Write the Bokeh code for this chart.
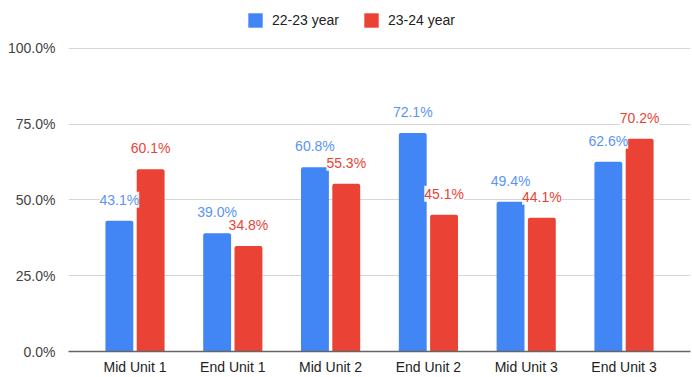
from bokeh.plotting import figure
from bokeh.models import (ColumnDataSource, FactorRange, Range1d, FixedTicker,
                          PrintfTickFormatter, LabelSet, Legend, LegendItem)
from bokeh.core.properties import value
from bokeh.transform import dodge
from bokeh.embed import file_html
from bokeh.resources import INLINE

# Assessment results by unit checkpoint
categories = ["Mid Unit 1", "End Unit 1", "Mid Unit 2", "End Unit 2", "Mid Unit 3", "End Unit 3"]
year_22_23 = [43.1, 39.0, 60.8, 72.1, 49.4, 62.6]
year_23_24 = [60.1, 34.8, 55.3, 45.1, 44.1, 70.2]
series_names = ["22-23 year", "23-24 year"]
y_ticks = [0, 25, 50, 75, 100]

BLUE = "#4285F4"
RED = "#EA4335"
FONT = "Liberation Sans"

source = ColumnDataSource(dict(
    cat=categories,
    a=year_22_23,
    b=year_23_24,
    a_lbl=[f"{v:.1f}%" for v in year_22_23],
    b_lbl=[f"{v:.1f}%" for v in year_23_24],
))

p = figure(
    width=692, height=377,
    x_range=FactorRange(*categories, range_padding=0.06),
    y_range=Range1d(0, 115.79),
    output_backend="svg", toolbar_location=None,
    min_border_left=68, min_border_right=2, min_border_top=0, min_border_bottom=25,
)
p.outline_line_color = None
p.background_fill_color = "white"
p.border_fill_color = "white"

bw = 0.285
off = 0.16
r_a = p.vbar(x=dodge("cat", -off, range=p.x_range), top="a", width=bw, source=source,
             fill_color=BLUE, line_color=None, border_radius=(2, 2, 0, 0))
r_b = p.vbar(x=dodge("cat", off, range=p.x_range), top="b", width=bw, source=source,
             fill_color=RED, line_color=None, border_radius=(2, 2, 0, 0))

# value labels floating above each bar
for col, lbl, dx, color in [("a", "a_lbl", -off, "#5A95F5"), ("b", "b_lbl", off, RED)]:
    p.add_layout(LabelSet(
        x=dodge("cat", dx, range=p.x_range), y=col, text=lbl, source=source,
        y_offset=21, text_align="center", text_baseline="middle",
        text_font=value(FONT), text_font_size=value("14px"), text_color=value(color),
        background_fill_color="white", background_fill_alpha=0.9,
    ))

# axes
p.yaxis.ticker = FixedTicker(ticks=y_ticks)
p.yaxis.formatter = PrintfTickFormatter(format="%.1f%%")
p.yaxis.axis_line_color = None
p.yaxis.major_tick_line_color = None
p.yaxis.minor_tick_line_color = None
p.yaxis.major_label_standoff = 7
p.yaxis.major_label_text_font = FONT
p.yaxis.major_label_text_font_size = "14px"
p.yaxis.major_label_text_color = "#444444"

p.xaxis.axis_line_color = "#666666"
p.xaxis.axis_line_width = 1.5
p.xaxis.major_tick_line_color = None
p.xaxis.minor_tick_line_color = None
p.xaxis.major_tick_out = 0
p.xaxis.major_label_standoff = 7
p.xaxis.major_label_text_font = FONT
p.xaxis.major_label_text_font_size = "14px"
p.xaxis.major_label_text_color = "#222222"

p.xgrid.grid_line_color = None
p.ygrid.ticker = FixedTicker(ticks=y_ticks)
p.ygrid.grid_line_color = "#d6d6d6"

legend = Legend(
    items=[LegendItem(label=series_names[0], renderers=[r_a]),
           LegendItem(label=series_names[1], renderers=[r_b])],
    orientation="horizontal", location=(178, 322),
    glyph_width=18, glyph_height=18, label_height=18, label_standoff=8, spacing=23,
    padding=0, margin=0, border_line_color=None, background_fill_alpha=0,
    label_text_font=FONT, label_text_font_size="14px", label_text_color="#222222",
)
p.add_layout(legend)

open("out.html", "w").write(file_html(p, INLINE))
